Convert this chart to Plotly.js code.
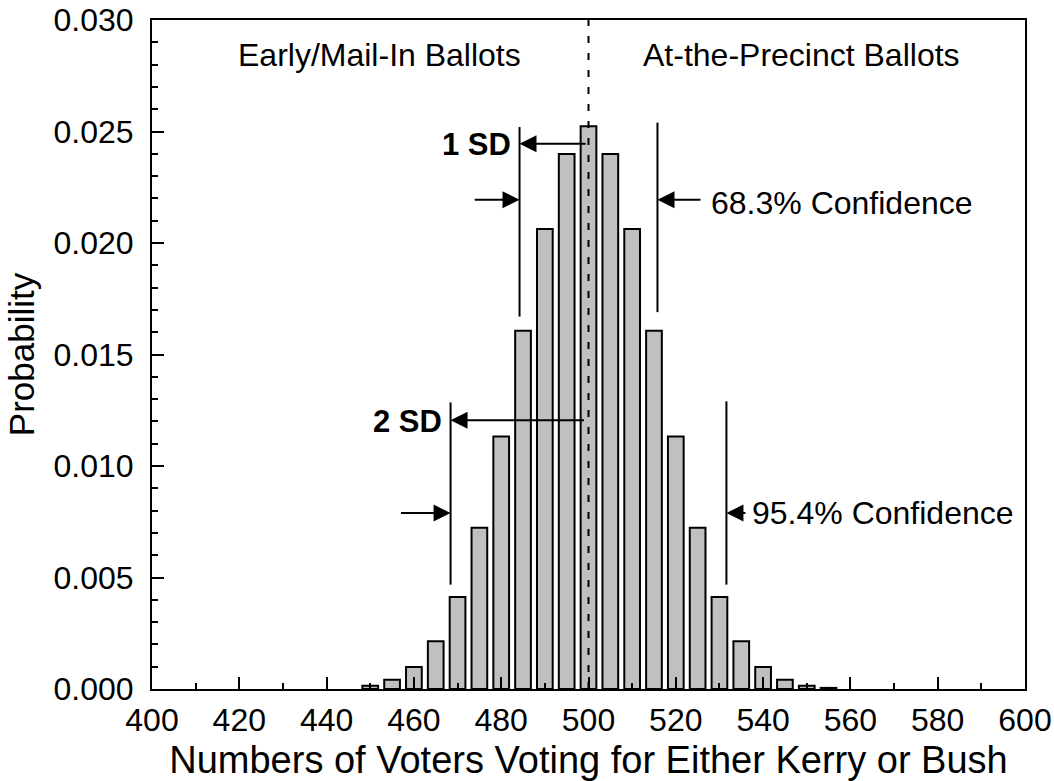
<!DOCTYPE html>
<html>
<head>
<meta charset="utf-8">
<script src="https://cdn.plot.ly/plotly-3.0.1.min.js"></script>
<style>html,body{margin:0;padding:0;background:#fff;}#chart{width:1054px;height:781px;}</style>
</head>
<body>
<div id="chart"></div>
<script>
// Data
var voters = [450, 455, 460, 465, 470, 475, 480, 485, 490, 495, 500, 505, 510, 515, 520, 525, 530, 535, 540, 545, 550, 555];
var probability = [0.00015, 0.00042, 0.00099, 0.00214, 0.00413, 0.00723, 0.01132, 0.01607, 0.02063, 0.02399, 0.02523,
                   0.02399, 0.02063, 0.01607, 0.01132, 0.00723, 0.00413, 0.00214, 0.00099, 0.00042, 0.00015, 0.00005];
var xTickVals = [400, 420, 440, 460, 480, 500, 520, 540, 560, 580, 600];
var yTickVals = [0.000, 0.005, 0.010, 0.015, 0.020, 0.025, 0.030];
var mean = 500;
var sd = 15.8;
var regionLabels = ["Early/Mail-In Ballots", "At-the-Precinct Ballots"];
var sdLabels = ["1 SD", "2 SD"];
var confLabels = ["68.3% Confidence", "95.4% Confidence"];

var FONT = "Liberation Sans, Arial, sans-serif";

var trace = {
  type: "bar",
  x: voters,
  y: probability,
  width: 3.6,
  marker: {color: "#c0c0c0", line: {color: "#000", width: 2}},
  hoverinfo: "x+y"
};

function vline(x, y0, y1, extra) {
  var s = {type: "line", xref: "x", yref: "y", x0: x, x1: x, y0: y0, y1: y1,
           line: {color: "#000", width: 2}, layer: "above"};
  if (extra) for (var k in extra) s.line[k] = extra[k];
  return s;
}
function arrow(xTail, xHead, y) {
  return {x: xHead, y: y, ax: xTail, ay: y, xref: "x", yref: "y", axref: "x", ayref: "y",
          text: "", showarrow: true, arrowhead: 2, arrowsize: 1.7, arrowwidth: 2,
          arrowcolor: "#000", standoff: 0, startstandoff: 0};
}
function label(text, x, y, anchor, bold) {
  return {x: x, y: y, xref: "x", yref: "y", text: bold ? "<b>" + text + "</b>" : text,
          showarrow: false, xanchor: anchor, yanchor: "middle",
          font: {family: FONT, size: bold ? 31 : 32, color: "#000"}};
}

var shapes = [
  vline(mean, 0, 0.030, {dash: "7px,10px"}),
  vline(mean - sd, 0.0167, 0.0252),
  vline(mean + sd, 0.0169, 0.0254),
  vline(mean - 2 * sd, 0.00468, 0.01285),
  vline(mean + 2 * sd, 0.00468, 0.0129)
];

var annotations = [
  label(regionLabels[0], 419.2, 0.02844, "left", false),
  label(regionLabels[1], 585.5, 0.02844, "right", false),
  arrow(499.7, mean - sd, 0.02445),
  label(sdLabels[0], 482.6, 0.02441, "right", true),
  arrow(499.3, mean - 2 * sd, 0.01205),
  label(sdLabels[1], 467.0, 0.01199, "right", true),
  arrow(473.6, mean - sd, 0.02194),
  arrow(526.0, mean + sd, 0.02194),
  label(confLabels[0], 527.6, 0.0218, "left", false),
  arrow(456.7, mean - 2 * sd, 0.00789),
  arrow(536.3, mean + 2 * sd, 0.00789),
  label(confLabels[1], 537.1, 0.0079, "left", false)
];

var layout = {
  width: 1054, height: 781,
  margin: {l: 152, r: 29, t: 20, b: 92, pad: 0},
  paper_bgcolor: "#fff", plot_bgcolor: "#fff",
  showlegend: false,
  font: {family: FONT, color: "#000"},
  xaxis: {
    range: [400, 600], tickmode: "array", tickvals: xTickVals,
    ticks: "inside", ticklen: 12, tickwidth: 2, tickcolor: "#000",
    minor: {dtick: 10, tick0: 400, ticks: "inside", ticklen: 6, tickwidth: 2, tickcolor: "#000"},
    showline: true, linewidth: 2, linecolor: "#000", mirror: true,
    showgrid: false, zeroline: false,
    tickfont: {family: FONT, size: 32, color: "#000"},
    ticklabelstandoff: 2,
    title: {text: "Numbers of Voters Voting for Either Kerry or Bush", font: {family: FONT, size: 38, color: "#000"}, standoff: 17}
  },
  yaxis: {
    range: [0, 0.03], tickmode: "array", tickvals: yTickVals, tickformat: ".3f",
    ticks: "inside", ticklen: 12, tickwidth: 2, tickcolor: "#000",
    minor: {dtick: 0.001, tick0: 0, ticks: "inside", ticklen: 6, tickwidth: 2, tickcolor: "#000"},
    showline: true, linewidth: 2, linecolor: "#000", mirror: true,
    showgrid: false, zeroline: false,
    tickfont: {family: FONT, size: 32, color: "#000"},
    ticklabelstandoff: 10,
    title: {text: "Probability", font: {family: FONT, size: 35, color: "#000"}, standoff: 8}
  },
  shapes: shapes,
  annotations: annotations
};

Plotly.newPlot("chart", [trace], layout, {displayModeBar: false, staticPlot: true});
</script>
</body>
</html>
